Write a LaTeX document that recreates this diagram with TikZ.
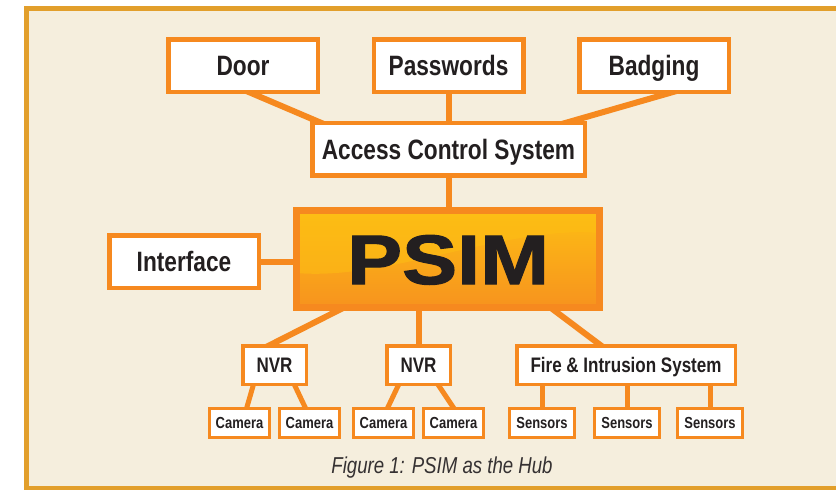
\documentclass[tikz,border=0pt]{standalone}
\usepackage{fontspec}
\setmainfont{Liberation Sans}[FakeStretch=0.81]
\newfontfamily\psimfont{Liberation Sans}[FakeStretch=1.18, FakeBold=1.6]
\usetikzlibrary{calc}

\definecolor{framegold}{HTML}{E29F2B}
\definecolor{paper}{HTML}{F5EEDD}
\definecolor{boxline}{HTML}{F6891F}
\definecolor{ink}{HTML}{231F20}
\definecolor{psimtop}{HTML}{FDBE14}
\definecolor{psimbot}{HTML}{F7931E}

\pgfdeclarelayer{back}
\pgfdeclarelayer{wires}
\pgfsetlayers{back,wires,main}

\tikzset{
	bigbox/.style={draw=boxline, line width=4.5pt, fill=white, inner sep=0pt, minimum width=149.5pt, minimum height=52.5pt, text=ink, text height=20pt, text depth=0pt, font=\bfseries\fontsize{28}{30}\selectfont},
	midbox/.style={draw=boxline, line width=3.5pt, fill=white, inner sep=0pt, minimum width=63.5pt, minimum height=38.5pt, text=ink, text height=15pt, text depth=0pt, font=\bfseries\fontsize{21}{23}\selectfont},
	smallbox/.style={draw=boxline, line width=3pt, fill=white, inner sep=0pt, minimum width=60pt, minimum height=29pt, text=ink, text height=11.5pt, text depth=0pt, font=\bfseries\fontsize{16}{18}\selectfont},
	psimbox/.style={draw=boxline, line width=7pt, inner sep=0pt, minimum width=303pt, minimum height=97pt, top color=psimtop, bottom color=psimbot, text=ink, text height=50pt, text depth=0pt, font=\psimfont\bfseries\fontsize{70}{72}\selectfont},
	wire/.style={draw=boxline, line width=6pt},
	thinwire/.style={draw=boxline, line width=5pt}
}

\begin{document}
\begin{tikzpicture}[x=1pt, y=-1pt]
		%%%%% START %%%%%
		\useasboundingbox (0,0) rectangle (836,490);
		
		\begin{pgfonlayer}{back}
		\draw[line width=5pt, draw=framegold, fill=paper] (26.5,8.5) rectangle (850,488.5);
		\end{pgfonlayer}
		
		% top row
		\node[bigbox] (door) at (243,65.5) {Door};
		\node[bigbox] (pw) at (448.5,65.5) {Passwords};
		\node[bigbox] (badge) at (654,65.5) {Badging};
		\node[bigbox, minimum width=272.5pt] (acs) at (448.5,149) {Access Control System};
		
		% hub
		\node[bigbox] (iface) at (184,261.5) {Interface};
		\node[psimbox, path picture={
			\fill[psimtop, opacity=0.55] ($(path picture bounding box.west)+(0,14)$)
				.. controls ($(path picture bounding box.center)+(-60,22)$) and ($(path picture bounding box.center)+(60,-34)$)
				.. ($(path picture bounding box.east)+(0,-26)$)
				|- (path picture bounding box.north west) -- cycle;
		}] (psim) at (448,259) {PSIM};
		
		% lower row
		\node[midbox] (nvr1) at (274.5,365) {NVR};
		\node[midbox] (nvr2) at (418.5,365) {NVR};
		\node[midbox, minimum width=218.5pt] (fire) at (626,365) {Fire \& Intrusion System};
		
		\node[smallbox] (cam1) at (239.5,423) {Camera};
		\node[smallbox] (cam2) at (309.5,423) {Camera};
		\node[smallbox] (cam3) at (383.5,423) {Camera};
		\node[smallbox] (cam4) at (453.5,423) {Camera};
		
		\node[smallbox, minimum width=65pt] (sen1) at (542,423) {Sensors};
		\node[smallbox, minimum width=65pt] (sen2) at (627,423) {Sensors};
		\node[smallbox, minimum width=65pt] (sen3) at (710,423) {Sensors};
		
		\node[text=ink!92, inner sep=0pt, text height=16.5pt, text depth=0pt, font=\itshape\fontsize{23}{25}\selectfont] (caption) at (442,465) {Figure 1: PSIM as the Hub};
		
		% links
		\begin{pgfonlayer}{wires}
		\draw[wire] ($(door.south)+(1,-4)$) -- ($(acs.north west)+(15,4)$);
		\draw[wire] (pw.south) -- (acs.north);
		\draw[wire] ($(badge.south)+(26,-4)$) -- ($(acs.north east)+(-27,4)$);
		\draw[wire] (acs.south) -- (acs.south |- psim.north);
		\draw[wire] (iface.east) -- (iface.east -| psim.west);
		
		\draw[wire] ($(psim.south)+(-103,-4)$) -- ($(nvr1.north)+(-10.4,4)$);
		\draw[wire] (nvr2.north) -- (nvr2.north |- psim.south);
		\draw[wire] ($(psim.south)+(101.7,-4)$) -- ($(fire.north)+(-21.7,4)$);
		
		\draw[thinwire] ($(nvr1.south)+(-20.6,-3)$) -- ($(cam1.north)+(6.6,3)$);
		\draw[thinwire] ($(nvr1.south)+(19.1,-3)$) -- ($(cam2.north)+(-3.1,3)$);
		\draw[thinwire] ($(nvr2.south)+(-19.1,-3)$) -- ($(cam3.north)+(3.1,3)$);
		\draw[thinwire] ($(nvr2.south)+(18.5,-3)$) -- ($(cam4.north)+(1.5,3)$);
		
		\draw[thinwire] (sen1.north) -- (sen1.north |- fire.south);
		\draw[thinwire] (sen2.north) -- (sen2.north |- fire.south);
		\draw[thinwire] (sen3.north) -- (sen3.north |- fire.south);
		\end{pgfonlayer}
		
		%%%%% END %%%%%
\end{tikzpicture}
\end{document}
